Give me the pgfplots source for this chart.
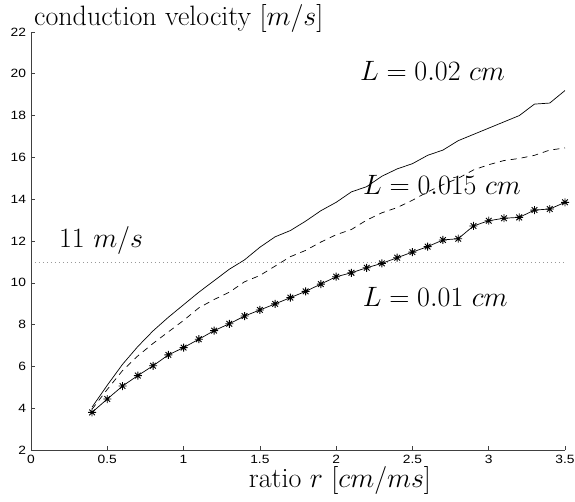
\RequirePackage{fix-cm}
\documentclass[border=0pt]{standalone}
\usepackage{fontspec}
\usepackage{pgfplots}
\pgfplotsset{compat=1.18}
\newfontfamily\tickfont[FakeStretch=1.15]{Liberation Sans}
\pgfdeclareplotmark{mstar}{%
 \pgfpathmoveto{\pgfqpoint{-\pgfplotmarksize}{0pt}}\pgfpathlineto{\pgfqpoint{\pgfplotmarksize}{0pt}}%
 \pgfpathmoveto{\pgfqpoint{0pt}{-\pgfplotmarksize}}\pgfpathlineto{\pgfqpoint{0pt}{\pgfplotmarksize}}%
 \pgfpathmoveto{\pgfqpoint{-.707\pgfplotmarksize}{-.707\pgfplotmarksize}}\pgfpathlineto{\pgfqpoint{.707\pgfplotmarksize}{.707\pgfplotmarksize}}%
 \pgfpathmoveto{\pgfqpoint{-.707\pgfplotmarksize}{.707\pgfplotmarksize}}\pgfpathlineto{\pgfqpoint{.707\pgfplotmarksize}{-.707\pgfplotmarksize}}%
 \pgfusepathqstroke}
\tikzset{lbl/.style={inner sep=0, font=\fontsize{28}{32}\selectfont}}
\begin{document}
\begin{tikzpicture}
\begin{axis}[
  scale only axis, width=534pt, height=418pt,
  xmin=0, xmax=3.5, ymin=2, ymax=22,
  axis x line=bottom, axis y line=left, axis line style={-, black!75, line width=0.7pt},
  xtick={0,0.5,...,3.5}, ytick={2,4,...,22},
  tick align=inside, major tick length=4pt, tick style={black!75, line width=0.6pt},
  ticklabel style={font=\tickfont\fontsize{12}{14}\selectfont},
  /pgf/number format/assume math mode=true,
  xticklabel style={yshift=-1.5pt},
  yticklabel style={xshift=-1.5pt},
  clip=false,
]
\addplot[black, line width=0.7pt] coordinates {
(0.4,4.05)(0.5,5.1)(0.6,6.1)(0.7,6.95)(0.8,7.7)(0.9,8.35)(1.0,8.95)(1.1,9.55)(1.2,10.1)(1.3,10.65)
(1.4,11.1)(1.5,11.7)(1.6,12.2)(1.7,12.5)(1.8,12.95)(1.9,13.45)(2.0,13.85)(2.1,14.35)(2.2,14.6)(2.3,15.1)
(2.4,15.45)(2.5,15.7)(2.6,16.1)(2.7,16.35)(2.8,16.8)(2.9,17.1)(3.0,17.4)(3.1,17.7)(3.2,18.0)(3.3,18.55)
(3.4,18.6)(3.5,19.2)};
\addplot[black, line width=0.7pt, dash pattern=on 6pt off 5pt] coordinates {
(0.4,3.95)(0.5,4.9)(0.6,5.8)(0.7,6.5)(0.8,7.1)(0.9,7.65)(1.0,8.2)(1.1,8.8)(1.2,9.2)(1.3,9.55)
(1.4,10.05)(1.5,10.35)(1.6,10.8)(1.7,11.25)(1.8,11.55)(1.9,11.95)(2.0,12.3)(2.1,12.55)(2.2,13.0)(2.3,13.35)
(2.4,13.6)(2.5,13.95)(2.6,14.35)(2.7,14.7)(2.8,15.0)(2.9,15.4)(3.0,15.65)(3.1,15.85)(3.2,15.95)(3.3,16.1)
(3.4,16.35)(3.5,16.45)};
\addplot[black, line width=0.7pt, mark=mstar, mark size=4pt, mark options={solid, line width=0.9pt}] coordinates {
(0.4,3.80)(0.5,4.44)(0.6,5.06)(0.7,5.56)(0.8,6.03)(0.9,6.55)(1.0,6.90)(1.1,7.30)(1.2,7.71)(1.3,8.04)
(1.4,8.41)(1.5,8.70)(1.6,8.99)(1.7,9.29)(1.8,9.59)(1.9,9.94)(2.0,10.29)(2.1,10.48)(2.2,10.72)(2.3,10.93)
(2.4,11.20)(2.5,11.47)(2.6,11.73)(2.7,12.05)(2.8,12.11)(2.9,12.72)(3.0,12.97)(3.1,13.09)(3.2,13.13)(3.3,13.48)
(3.4,13.53)(3.5,13.85)};
\addplot[black!40, line width=0.6pt, dash pattern=on 0.6pt off 3.4pt] coordinates {(0.026,11)(3.5,11)};
\node[lbl, anchor=base west] at (axis cs:2.156,19.66) {$L=0.02\ cm$};
\node[lbl, anchor=base west] at (axis cs:2.176,14.23) {$L=0.015\ cm$};
\node[lbl, anchor=base west] at (axis cs:2.174,8.86) {$L=0.01\ cm$};
\node[lbl, anchor=base west] at (axis cs:0.183,11.68) {$11\ m/s$};
\node[lbl, anchor=base] at (axis cs:2.025,0.182) {ratio $r\ [cm/ms]$};
\end{axis}
\node[lbl, anchor=base west] at ([shift={(3pt,6pt)}]current axis.north west) {conduction velocity $[m/s]$};
\pgfresetboundingbox
\path[use as bounding box] ([shift={(-31pt,-51pt)}]current axis.south west) rectangle ([shift={(10pt,32pt)}]current axis.north east);
\end{tikzpicture}
\end{document}
